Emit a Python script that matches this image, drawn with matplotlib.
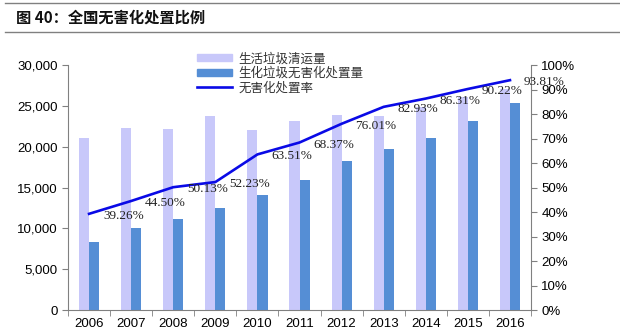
import matplotlib
matplotlib.use("Agg")
import matplotlib.pyplot as plt
import numpy as np
from matplotlib.lines import Line2D
from matplotlib.patches import Patch
from matplotlib.ticker import FuncFormatter, MultipleLocator

years = ["2006", "2007", "2008", "2009", "2010", "2011", "2012", "2013", "2014", "2015", "2016"]
cleared = [21100, 22300, 22200, 23800, 22100, 23100, 23900, 23750, 24900, 26100, 27100]
treated = [8300, 10000, 11200, 12500, 14100, 15900, 18200, 19700, 21100, 23200, 25300]
rate = [39.26, 44.50, 50.13, 52.23, 63.51, 68.37, 76.01, 82.93, 86.31, 90.22, 93.81]

LIGHT = "#c8c8fa"
BLUE = "#558ed5"
LINE = "#0a0ae6"
CJK = ["Noto Sans CJK SC", "DejaVu Sans"]

plt.rcParams["font.family"] = ["Liberation Sans", "DejaVu Sans"]

fig = plt.figure(figsize=(6.2, 3.31), dpi=100)
ax = fig.add_axes([0.1097, 0.0634, 0.7468, 0.7402])
ax2 = ax.twinx()

x = np.arange(len(years))
w = 0.24
ax.bar(x - w / 2, cleared, w, color=LIGHT, zorder=2)
ax.bar(x + w / 2, treated, w, color=BLUE, zorder=2)

ax2.plot(x, rate, color=LINE, lw=1.9, solid_joinstyle="round", zorder=3)
for xi, r in zip(x, rate):
    ax2.annotate(f"{r:.2f}%", (xi, r), xytext=(14, -2), textcoords="offset pixels",
                 ha="left", va="center", fontsize=9.5, family="Liberation Serif",
                 color="#222222")

ax.set_xlim(-0.5, len(years) - 0.5)
ax.set_ylim(0, 30000)
ax2.set_ylim(0, 100)
ax.yaxis.set_major_locator(MultipleLocator(5000))
ax2.yaxis.set_major_locator(MultipleLocator(10))
ax.yaxis.set_major_formatter(FuncFormatter(lambda v, p: f"{int(v):,}"))
ax2.yaxis.set_major_formatter(FuncFormatter(lambda v, p: f"{int(v)}%"))

ax.set_xticks(x)
ax.set_xticklabels(years)
ax.set_xticks(np.arange(len(years) + 1) - 0.5, minor=True)
ax.tick_params(axis="x", which="major", length=0, labelsize=9.5, pad=6)
ax.tick_params(axis="x", which="minor", length=4, direction="out", color="#808080")
ax.tick_params(axis="y", length=4, direction="out", color="#808080", labelsize=9.5)
ax2.tick_params(axis="y", length=4, direction="out", color="#808080", labelsize=9.5)

for a in (ax, ax2):
    a.spines["top"].set_visible(False)
    for s in ("left", "right", "bottom"):
        a.spines[s].set_color("#808080")
ax2.spines["bottom"].set_visible(False)
ax.spines["right"].set_visible(False)
ax2.spines["left"].set_visible(False)

handles = [Patch(color=LIGHT), Patch(color=BLUE), Line2D([], [], color=LINE, lw=1.9)]
labels = ["生活垃圾清运量", "生化垃圾无害化处置量", "无害化处置率"]
leg = fig.legend(handles, labels, loc="upper left", bbox_to_anchor=(0.318, 0.842),
                 frameon=False, prop={"family": CJK, "size": 9}, handlelength=2.8,
                 handleheight=0.5, handletextpad=0.5, labelspacing=0.12,
                 borderaxespad=0, borderpad=0)
for t in leg.get_texts():
    t.set_color("#333333")

fig.text(0.025, 0.948, "图 40：全国无害化处置比例", family=CJK, fontsize=11,
         fontweight="bold", va="center", ha="left", color="#111111")
fig.add_artist(Line2D([0.008, 1.0], [0.991, 0.991], color="#808080", lw=1.0))
fig.add_artist(Line2D([0.008, 1.0], [0.903, 0.903], color="#808080", lw=1.0))

fig.savefig("out.png", dpi=100)
